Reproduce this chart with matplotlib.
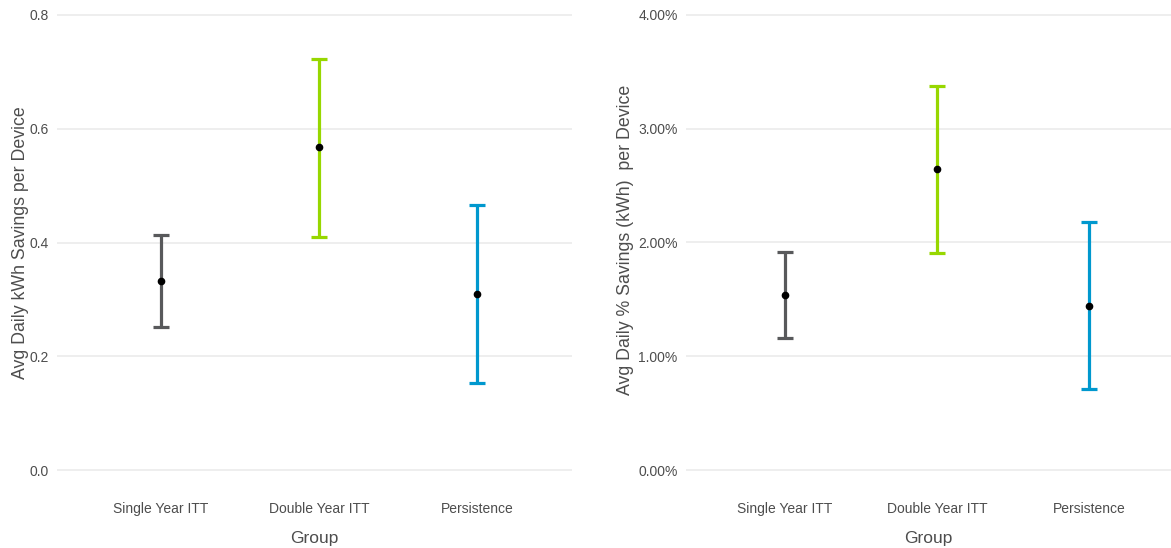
import matplotlib
matplotlib.use("Agg")
import matplotlib.pyplot as plt
from matplotlib.ticker import FuncFormatter

groups = ["Single Year ITT", "Double Year ITT", "Persistence"]
colors = ["#58595B", "#97D700", "#0098CE"]

kwh_mean = [0.332, 0.568, 0.309]
kwh_low = [0.251, 0.410, 0.153]
kwh_high = [0.413, 0.723, 0.466]

pct_mean = [1.54, 2.65, 1.44]
pct_low = [1.16, 1.91, 0.71]
pct_high = [1.92, 3.38, 2.18]

kwh_ticks = [0.0, 0.2, 0.4, 0.6, 0.8]
pct_ticks = [0.0, 1.0, 2.0, 3.0, 4.0]

plt.rcParams['font.family'] = ['Liberation Sans', 'DejaVu Sans']
W, H = 1171, 548
fig = plt.figure(figsize=(W / 100, H / 100), dpi=100)
TXT = "#4D4D4D"
GRID = "#EBEBEB"


def make_axes(x0, x1, top_px, bot_px):
    return fig.add_axes([x0 / W, 1 - bot_px / H, (x1 - x0) / W, (bot_px - top_px) / H])


def draw(ax, means, lows, highs, ticks, xlim, ylim, ylabel, fmt, ylab_x_px, ylab_y_px, x0_px, top_px, bot_px):
    for i, (m, lo, hi, c) in enumerate(zip(means, lows, highs, colors)):
        ax.errorbar([i], [m], yerr=[[m - lo], [hi - m]], fmt='none', ecolor=c,
                    elinewidth=2.3, capsize=6, capthick=2.3, zorder=3)
        ax.plot([i], [m], 'o', color='black', markersize=4.5, zorder=4)
    ax.set_xlim(*xlim)
    ax.set_ylim(*ylim)
    ax.set_yticks(ticks)
    ax.yaxis.set_major_formatter(FuncFormatter(fmt))
    ax.set_xticks(range(len(groups)))
    ax.set_xticklabels(groups)
    ax.grid(axis='y', color=GRID, linewidth=1.2)
    ax.set_axisbelow(True)
    for s in ax.spines.values():
        s.set_visible(False)
    ax.tick_params(axis='both', length=0, colors=TXT, labelsize=10)
    ax.tick_params(axis='x', pad=19)
    ax.tick_params(axis='y', pad=6)
    ax.set_xlabel("Group", color=TXT, fontsize=12.5, labelpad=11)
    ax.set_ylabel(ylabel, color=TXT, fontsize=12.8, va='center')
    w_px = ax.get_position().width * W
    ax.yaxis.set_label_coords((ylab_x_px - x0_px) / w_px,
                              (bot_px - ylab_y_px) / (bot_px - top_px))


# left panel
sc1 = 455 / 0.8
t1, b1 = 15 - 0.01 * sc1, 470 + 0.01 * sc1
ax1 = make_axes(57, 572, t1, b1)
draw(ax1, kwh_mean, kwh_low, kwh_high, kwh_ticks,
     ((57 - 161) / 158, (572 - 161) / 158), (-0.01, 0.81),
     "Avg Daily kWh Savings per Device", lambda v, p: f"{v:.1f}",
     20, 243, 57, t1, b1)

# right panel
sc2 = 455 / 4.0
t2, b2 = 15 - 0.05 * sc2, 470 + 0.05 * sc2
ax2 = make_axes(686, 1171, t2, b2)
draw(ax2, pct_mean, pct_low, pct_high, pct_ticks,
     ((686 - 785) / 152, (1171 - 785) / 152), (-0.05, 4.05),
     "Avg Daily % Savings (kWh)  per Device", lambda v, p: f"{v:.2f}%",
     626, 240, 686, t2, b2)

fig.savefig("out.png", dpi=100)
